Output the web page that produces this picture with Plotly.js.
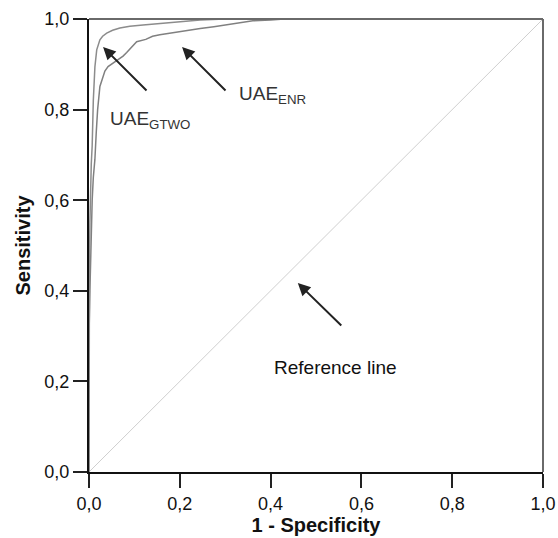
<!DOCTYPE html>
<html>
<head>
<meta charset="utf-8">
<script src="https://cdn.plot.ly/plotly-3.0.1.min.js"></script>
<style>html,body{margin:0;padding:0;background:#fff;}#chart{width:558px;height:538px;}</style>
</head>
<body>
<div id="chart"></div>
<script>
// ROC curve UAE_GTWO
const gtwoFpr = [0, 0, 0.001, 0.002, 0.003, 0.005, 0.007, 0.0095, 0.013, 0.017, 0.024, 0.030, 0.039, 0.052, 0.068, 0.090, 0.119, 0.150, 0.194, 0.245, 0.30, 1.0];
const gtwoTpr = [0, 0.35, 0.45, 0.55, 0.62, 0.68, 0.72, 0.82, 0.894, 0.932, 0.954, 0.962, 0.969, 0.975, 0.980, 0.984, 0.987, 0.990, 0.993, 0.998, 1.0, 1.0];
// ROC curve UAE_ENR
const enrFpr = [0, 0, 0.002, 0.004, 0.007, 0.0095, 0.013, 0.016, 0.019, 0.024, 0.030, 0.035, 0.042, 0.053, 0.065, 0.075, 0.083, 0.095, 0.105, 0.125, 0.140, 0.156, 0.175, 0.193, 0.220, 0.245, 0.275, 0.303, 0.330, 0.361, 0.40, 0.43, 1.0];
const enrTpr = [0, 0.30, 0.40, 0.50, 0.60, 0.65, 0.69, 0.75, 0.80, 0.851, 0.872, 0.885, 0.895, 0.903, 0.910, 0.918, 0.926, 0.940, 0.950, 0.955, 0.962, 0.965, 0.968, 0.972, 0.975, 0.979, 0.983, 0.987, 0.992, 0.996, 0.998, 1.0, 1.0];
// Reference diagonal
const refX = [0, 1];
const refY = [0, 1];
const tickVals = [0, 0.2, 0.4, 0.6, 0.8, 1.0];

const font = 'Liberation Sans, Arial, Helvetica, sans-serif';

const traces = [
  {x: refX, y: refY, mode: 'lines', line: {color: '#cfcfcf', width: 1}, hoverinfo: 'skip'},
  {x: enrFpr, y: enrTpr, mode: 'lines', line: {color: '#808080', width: 1.5}, name: 'UAE ENR'},
  {x: gtwoFpr, y: gtwoTpr, mode: 'lines', line: {color: '#8c8c8c', width: 1.5}, name: 'UAE GTWO'}
];

const arrow = (tx, ty, ax, ay) => ({
  x: tx, y: ty, ax: ax, ay: ay, xref: 'x', yref: 'y', axref: 'x', ayref: 'y',
  text: '', showarrow: true, arrowhead: 2, arrowsize: 1.25, arrowwidth: 2, arrowcolor: '#222'
});

const layout = {
  width: 558, height: 538,
  margin: {l: 89, r: 15, t: 19, b: 66},
  paper_bgcolor: '#fff', plot_bgcolor: '#fff',
  showlegend: false,
  separators: ', ',
  font: {family: font, color: '#111', size: 18},
  xaxis: {
    range: [0, 1], tickvals: tickVals, tickformat: '.1f',
    showgrid: false, zeroline: false, showline: true, linecolor: '#111', linewidth: 2,
    ticks: 'outside', ticklen: 14, tickwidth: 2, tickcolor: '#222',
    tickfont: {size: 18, family: font, color: '#111'},
    title: {text: '<b>1 - Specificity</b>', font: {size: 20, family: font, color: '#111'}, standoff: 2}
  },
  yaxis: {
    range: [0, 1], tickvals: tickVals, tickformat: '.1f',
    showgrid: false, zeroline: false, showline: true, linecolor: '#111', linewidth: 2,
    ticks: 'outside', ticklen: 14, tickwidth: 2, tickcolor: '#222',
    tickfont: {size: 18, family: font, color: '#111'},
    title: {text: '<b>Sensitivity</b>', font: {size: 20, family: font, color: '#111'}, standoff: 8}
  },
  shapes: [
    {type: 'line', xref: 'paper', yref: 'paper', x0: 0, x1: 1, y0: 1, y1: 1, line: {color: '#6a6a6a', width: 2}},
    {type: 'line', xref: 'paper', yref: 'paper', x0: 1, x1: 1, y0: 0, y1: 1, line: {color: '#6a6a6a', width: 2}}
  ],
  annotations: [
    arrow(0.031, 0.938, 0.130, 0.839),
    arrow(0.205, 0.938, 0.304, 0.839),
    arrow(0.460, 0.417, 0.559, 0.320),
    {x: 0.042, y: 0.777, xref: 'x', yref: 'y', xanchor: 'left', yanchor: 'middle', showarrow: false,
     text: 'UAE<sub>GTWO</sub>', font: {size: 19, family: font, color: '#333'}},
    {x: 0.326, y: 0.832, xref: 'x', yref: 'y', xanchor: 'left', yanchor: 'middle', showarrow: false,
     text: 'UAE<sub>ENR</sub>', font: {size: 19, family: font, color: '#333'}},
    {x: 0.542, y: 0.230, xref: 'x', yref: 'y', xanchor: 'center', yanchor: 'middle', showarrow: false,
     text: 'Reference line', font: {size: 19, family: font, color: '#111'}}
  ]
};

Plotly.newPlot('chart', traces, layout, {displayModeBar: false, staticPlot: true});
</script>
</body>
</html>
